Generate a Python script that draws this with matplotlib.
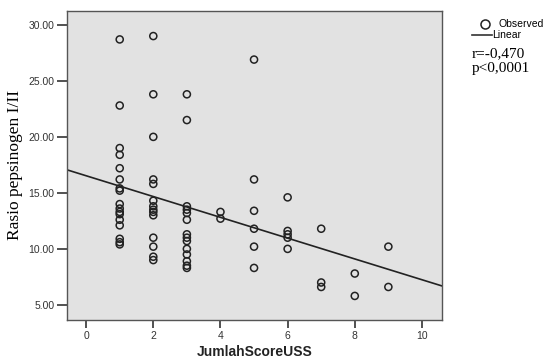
import matplotlib.pyplot as plt
import numpy as np

# JumlahScoreUSS vs rasio pepsinogen I/II
skor = [1] * 17 + [2] * 14 + [3] * 14 + [4] * 2 + [5] * 6 + [6] * 5 + [7] * 3 + [8] * 2 + [9] * 2
rasio = [28.7, 22.8, 19.0, 18.4, 17.2, 16.2, 15.4, 15.2, 14.0, 13.6, 13.3, 13.1, 12.6, 12.1, 10.9, 10.6, 10.4,
         29.0, 23.8, 20.0, 16.2, 15.8, 14.3, 13.8, 13.5, 13.3, 13.0, 11.0, 10.2, 9.3, 9.0,
         23.8, 21.5, 13.8, 13.5, 13.2, 12.6, 11.3, 11.0, 10.7, 10.0, 9.5, 8.9, 8.5, 8.3,
         13.3, 12.7,
         26.9, 16.2, 13.4, 11.8, 10.2, 8.3,
         14.6, 11.6, 11.3, 11.0, 10.0,
         11.8, 7.0, 6.6,
         7.8, 5.8,
         10.2, 6.6]
xticks = [0, 2, 4, 6, 8, 10]
yticks = [5, 10, 15, 20, 25, 30]

x = np.array(skor, dtype=float)
y = np.array(rasio)
b, a = np.polyfit(x, y, 1)

fig = plt.figure(figsize=(5.46, 3.62), dpi=100)
ax = fig.add_axes([0.1227, 0.116, 0.687, 0.854])
ax.set_facecolor('#e2e2e2')

ax.scatter(x, y, s=26, facecolors='none', edgecolors='#222222', linewidths=1.1, zorder=3)
xl = np.array([-0.57, 10.6])
ax.plot(xl, a + b * xl, color='#222222', lw=1.2, zorder=2)

ax.set_xlim(-0.57, 10.6)
ax.set_ylim(3.65, 31.25)
ax.set_xticks(xticks)
ax.set_yticks(yticks)
ax.set_xticklabels([str(t) for t in xticks], fontfamily='Liberation Sans', fontsize=7.5, color='#333333')
ax.set_yticklabels(['%.2f' % t for t in yticks], fontfamily='Liberation Sans', fontsize=7.5, color='#333333')
ax.tick_params(axis='y', length=7, width=1.2, color='#333333', pad=2)
ax.tick_params(axis='x', length=6, width=1.2, color='#333333', pad=2)
for s in ax.spines.values():
    s.set_color('#555555')
    s.set_linewidth(1.0)

ax.set_ylabel('Rasio pepsinogen I/II', fontfamily='Liberation Serif', fontsize=12.5, labelpad=4)
ax.set_xlabel('JumlahScoreUSS', fontfamily='Liberation Sans', fontsize=10, fontweight='bold',
              color='#222222', labelpad=3)

# leyenda y estadisticos
fig.add_artist(plt.Line2D([0.889], [0.935], marker='o', markersize=6.5, markerfacecolor='none',
                          markeredgecolor='#222222', markeredgewidth=1.1))
fig.text(0.913, 0.935, 'Observed', fontsize=7.5, va='center', fontfamily='Liberation Sans')
fig.add_artist(plt.Line2D([0.864, 0.901], [0.903, 0.903], color='#333333', lw=1.2))
fig.text(0.901, 0.903, 'Linear', fontsize=7.5, va='center', fontfamily='Liberation Sans')
fig.text(0.864, 0.853, 'r=-0,470', fontsize=11, va='center', fontfamily='Liberation Serif')
fig.text(0.864, 0.812, 'p<0,0001', fontsize=11, va='center', fontfamily='Liberation Serif')

plt.savefig('out.png', dpi=100)
